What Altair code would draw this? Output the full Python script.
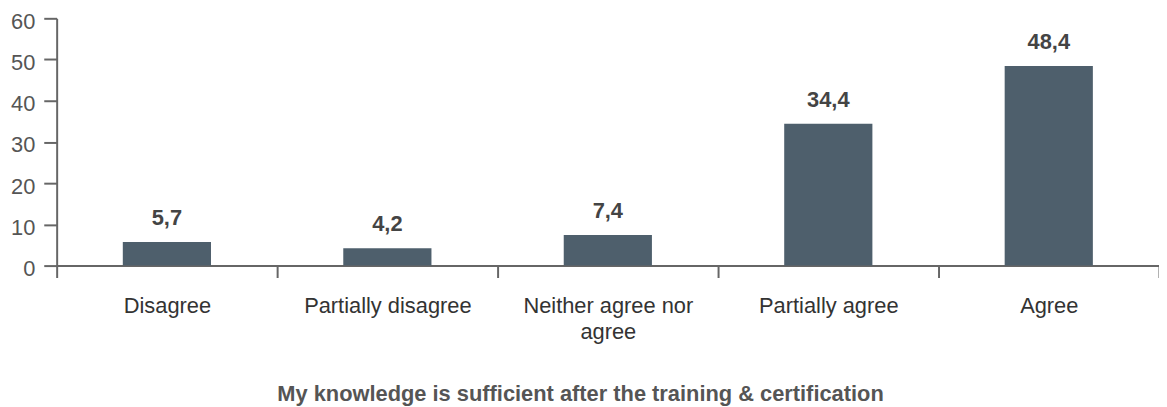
import altair as alt
import pandas as pd

categories = ["Disagree", "Partially disagree", "Neither agree nor|agree", "Partially agree", "Agree"]
values = [5.7, 4.2, 7.4, 34.4, 48.4]
y_ticks = [0, 10, 20, 30, 40, 50, 60]
title_text = "My knowledge is sufficient after the training & certification"

df = pd.DataFrame({"category": categories, "value": values})

FONT = "Liberation Sans"
BAR = "#4e5f6c"
FS = 22

x = alt.X(
    "category:N",
    sort=categories,
    scale=alt.Scale(paddingInner=0, paddingOuter=0),
    axis=alt.Axis(
        title=title_text,
        labelAngle=0,
        labelExpr="split(datum.label, '|')",
        labelFont=FONT,
        labelFontSize=FS,
        labelColor="#333333",
        labelPadding=18,
        labelLineHeight=26,
        labelBaseline="top",
        tickBand="extent",
        tickSize=12,
        tickWidth=2,
        tickColor="#666666",
        domainColor="#666666",
        domainWidth=2,
        titleFont=FONT,
        titleFontSize=FS,
        titleFontWeight="bold",
        titleColor="#555555",
        titleX=527,
        titleY=129,
        titleBaseline="middle",
        titleAlign="center",
    ),
)

y = alt.Y(
    "value:Q",
    scale=alt.Scale(domain=[0, 60], nice=False),
    axis=alt.Axis(
        title=None,
        values=y_ticks,
        grid=False,
        labelFont=FONT,
        labelFontSize=FS,
        labelColor="#555555",
        labelPadding=9,
        labelOffset=3,
        tickSize=13,
        tickWidth=2,
        tickColor="#666666",
        domainColor="#666666",
        domainWidth=2,
    ),
)

bars = alt.Chart(df).mark_bar(color=BAR, width=alt.RelativeBandSize(0.40)).encode(x=x, y=y)

labels = (
    alt.Chart(df)
    .transform_calculate(label="replace(format(datum.value, '.1f'), '.', ',')")
    .mark_text(font=FONT, fontSize=FS, fontWeight="bold", color="#444444", baseline="alphabetic", dy=-17)
    .encode(x=alt.X("category:N", sort=categories), y="value:Q", text="label:N")
)

chart = (
    alt.layer(bars, labels)
    .properties(
        width=1110,
        height=249,
        autosize=alt.AutoSizeParams(type="none"),
        padding={"left": 49, "top": 9, "right": 0, "bottom": 141},
    )
    .configure_view(stroke=None)
)

chart.save("out.html", embed_options={"renderer": "svg", "actions": False})
